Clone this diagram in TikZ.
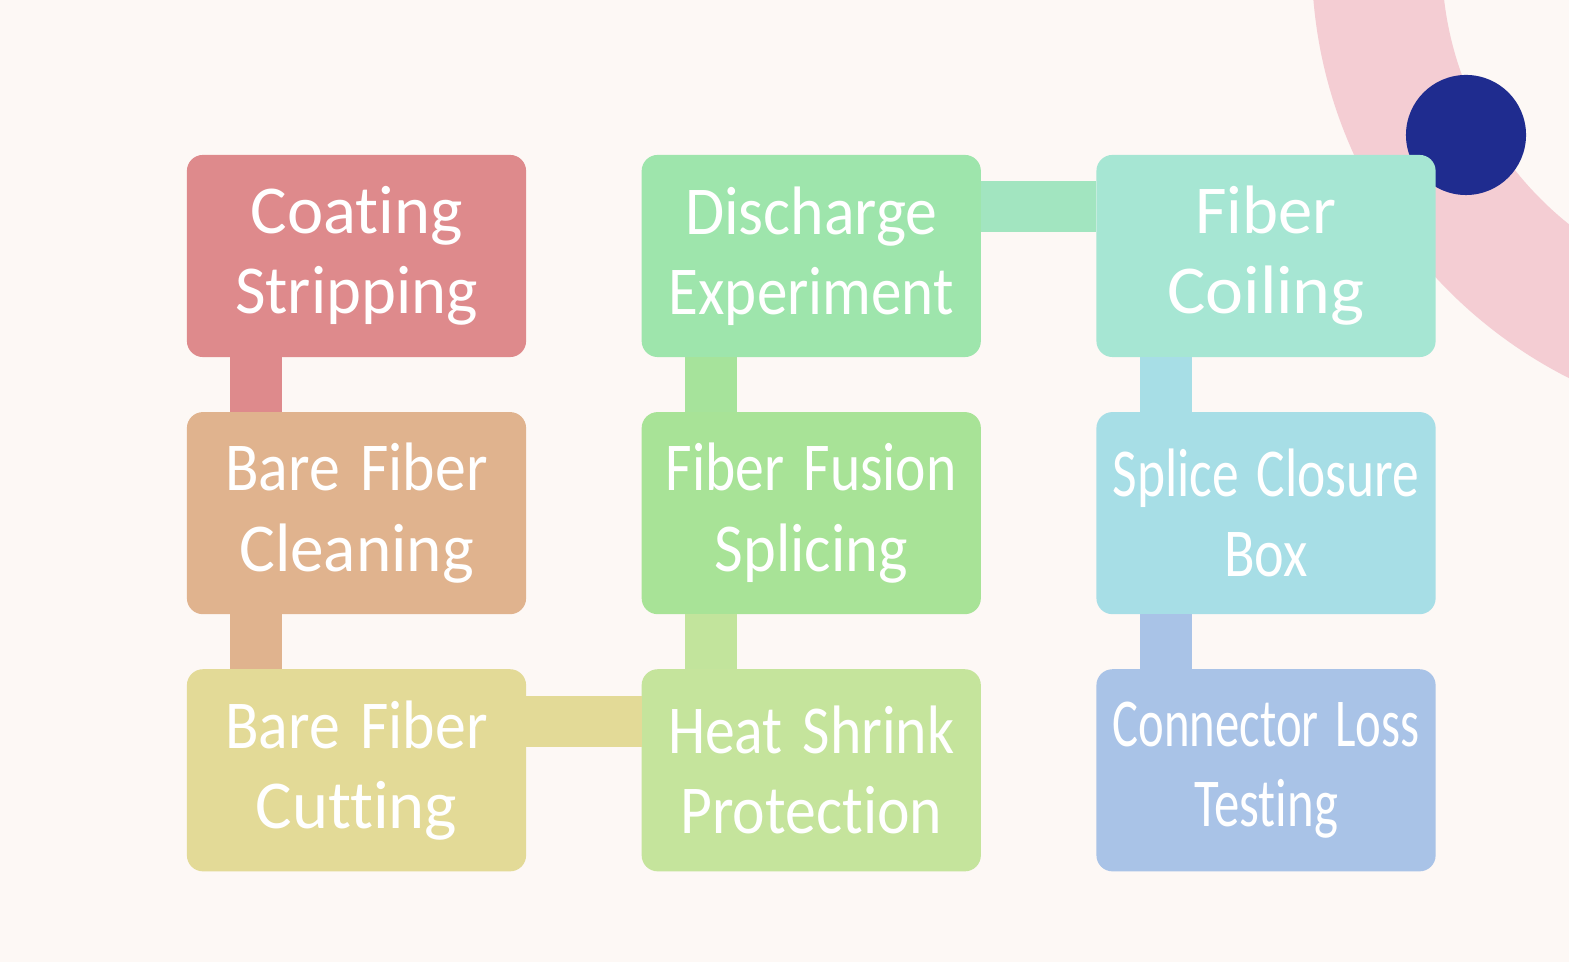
\documentclass[tikz,border=0pt]{standalone}
\usepackage{fontspec}
\setmainfont{Carlito}[Ligatures=NoCommon]
\usetikzlibrary{positioning}
\definecolor{bgcream}{HTML}{FDF8F5}
\definecolor{ringpink}{HTML}{F4CDD3}
\definecolor{dotblue}{HTML}{1F2C8F}
\definecolor{cStrip}{HTML}{DE8A8C}
\definecolor{cClean}{HTML}{E0B38E}
\definecolor{cCut}{HTML}{E3DA97}
\definecolor{cHeat}{HTML}{C5E49C}
\definecolor{cFusion}{HTML}{A8E397}
\definecolor{cDischarge}{HTML}{9EE5AC}
\definecolor{cCoil}{HTML}{A6E6D3}
\definecolor{cClosure}{HTML}{A7DEE6}
\definecolor{cLoss}{HTML}{A9C3E7}
% horizontally squeezed line
\newcommand{\sqz}[2]{\scalebox{#1}[1]{#2}}
\begin{document}
\begin{tikzpicture}[x=0.01cm, y=-0.01cm,
    stepbox/.style={rectangle, rounded corners=1.6mm, minimum width=3.39cm, minimum height=2.02cm, inner sep=0pt, outer sep=0pt, text width=3.3cm, align=center, text=white, font=\fontsize{19.5}{22.8}\selectfont},
    vbar/.style={line width=5.2mm},
    hbar/.style={line width=5.1mm},
    node distance=0.55cm and 1.155cm]
    % Background and decoration
    \fill[bgcream] (0,0) rectangle (1569,962);
    \useasboundingbox (0,0) rectangle (1569,962);
    \begin{scope}
        \clip (0,0) rectangle (1569,962);
        \fill[ringpink, even odd rule] (1780,-40) circle (4.68cm) (1780,-40) circle (3.38cm);
    \end{scope}
    \fill[dotblue] (1466,135) circle (0.6cm);

    % Column 1
    \node[stepbox, fill=cStrip] (strip) at (356.5,256) {Coating\\\sqz{0.97}{Stripping}};
    \node[stepbox, fill=cClean, below=of strip] (clean) {\sqz{0.9}{Bare Fiber}\\\sqz{0.98}{Cleaning}};
    \node[stepbox, fill=cCut, below=of clean] (cut) {\sqz{0.9}{Bare Fiber}\\Cutting};

    % Column 2
    \node[stepbox, fill=cDischarge, right=of strip] (discharge) {\sqz{0.93}{Discharge}\\\sqz{0.89}{Experiment}};
    \node[stepbox, fill=cFusion, below=of discharge] (fusion) {\sqz{0.84}{Fiber Fusion}\\\sqz{0.91}{Splicing}};
    \node[stepbox, fill=cHeat, below=of fusion] (heat) {\sqz{0.87}{Heat Shrink}\\\sqz{0.9}{Protection}};

    % Column 3
    \node[stepbox, fill=cCoil, right=of discharge] (coil) {Fiber\\\sqz{1.05}{Coiling}};
    \node[stepbox, fill=cClosure, below=of coil] (closure) {\sqz{0.78}{Splice Closure}\\\sqz{0.82}{Box}};
    \node[stepbox, fill=cLoss, below=of closure] (loss) {\sqz{0.71}{Connector Loss}\\\sqz{0.74}{Testing}};

    % Connections
    \draw[vbar, cStrip] ([xshift=-1cm]strip.south) -- ([xshift=-1cm]clean.north);
    \draw[vbar, cClean] ([xshift=-1cm]clean.south) -- ([xshift=-1cm]cut.north);
    \draw[hbar, cCut] ([yshift=4.9mm]cut.east) -- ([yshift=4.9mm]heat.west);
    \draw[vbar, cHeat!90!cFusion] ([xshift=-1cm]heat.north) -- ([xshift=-1cm]fusion.south);
    \draw[vbar, cFusion!80!cDischarge] ([xshift=-1cm]fusion.north) -- ([xshift=-1cm]discharge.south);
    \draw[hbar, cDischarge!50!cCoil] ([yshift=4.9mm]discharge.east) -- ([yshift=4.9mm]coil.west);
    \draw[vbar, cClosure] ([xshift=-1cm]coil.south) -- ([xshift=-1cm]closure.north);
    \draw[vbar, cLoss] ([xshift=-1cm]closure.south) -- ([xshift=-1cm]loss.north);
\end{tikzpicture}
\end{document}
